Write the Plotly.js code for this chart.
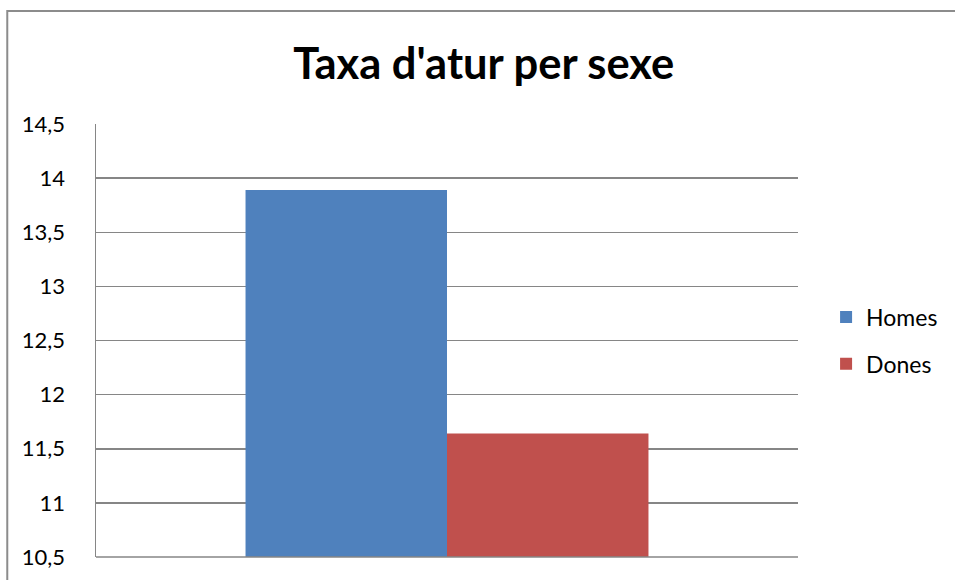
<!DOCTYPE html>
<html><head><meta charset="utf-8">
<script src="https://cdn.plot.ly/plotly-3.0.1.min.js"></script>
<style>body{margin:0;padding:0;background:#fff}#chart{width:955px;height:580px}</style>
</head><body><div id="chart"></div>
<script>
const categories = ["Taxa"];
const seriesNames = ["Homes", "Dones"];
const homesValues = [13.89];
const donesValues = [11.64];
const tickValues = [10.5, 11, 11.5, 12, 12.5, 13, 13.5, 14, 14.5];
const tickLabels = ["10,5", "11", "11,5", "12", "12,5", "13", "13,5", "14", "14,5"];
const colors = ["#4f81bd", "#c0504d"];

const font = "Lato, 'Open Sans', sans-serif";
const traces = [
  {type: "bar", name: seriesNames[0], x: categories, y: homesValues, marker: {color: colors[0]}, legendgroup: "a", hoverinfo: "none"},
  {type: "bar", name: seriesNames[1], x: categories, y: donesValues, marker: {color: colors[1]}, legendgroup: "b", hoverinfo: "none"}
];
const layout = {
  width: 955, height: 580,
  margin: {l: 96, r: 155, t: 124, b: 23},
  paper_bgcolor: "#fff", plot_bgcolor: "#fff",
  font: {family: font, color: "#000", size: 21},
  title: {text: "<b>Taxa d'atur per sexe</b>", font: {family: font, size: 43.5, color: "#000"}, x: 0.5065, xanchor: "center", y: 0.89, yanchor: "middle"},
  barmode: "group", bargap: 0.426, bargroupgap: 0,
  xaxis: {showticklabels: false, showgrid: false, zeroline: false, showline: false, fixedrange: true},
  yaxis: {range: [10.5, 14.5], tickvals: tickValues, ticktext: tickLabels, showgrid: true, gridcolor: "#868686", gridwidth: 1.5,
          showline: true, linecolor: "#868686", linewidth: 1.5, zeroline: false, ticks: "", ticklabelstandoff: 25,
          tickfont: {family: font, size: 22, color: "#000"}},
  showlegend: true,
  legend: {x: 1.04, xanchor: "left", y: 0.5, yanchor: "middle", font: {family: font, size: 23, color: "#000"},
           traceorder: "grouped", tracegroupgap: 14, itemwidth: 30, bgcolor: "rgba(0,0,0,0)"},
  shapes: [
    {type: "line", xref: "paper", yref: "paper", x0: 0, x1: 1, y0: 0, y1: 0, line: {color: "#868686", width: 1.5}},
    {type: "rect", xref: "paper", yref: "paper", x0: -0.1264, x1: 1.3, y0: -0.1, y1: 1.261, line: {color: "#8c8c8c", width: 2}, layer: "above"}
  ]
};
Plotly.newPlot("chart", traces, layout, {displayModeBar: false, staticPlot: true});
</script></body></html>
